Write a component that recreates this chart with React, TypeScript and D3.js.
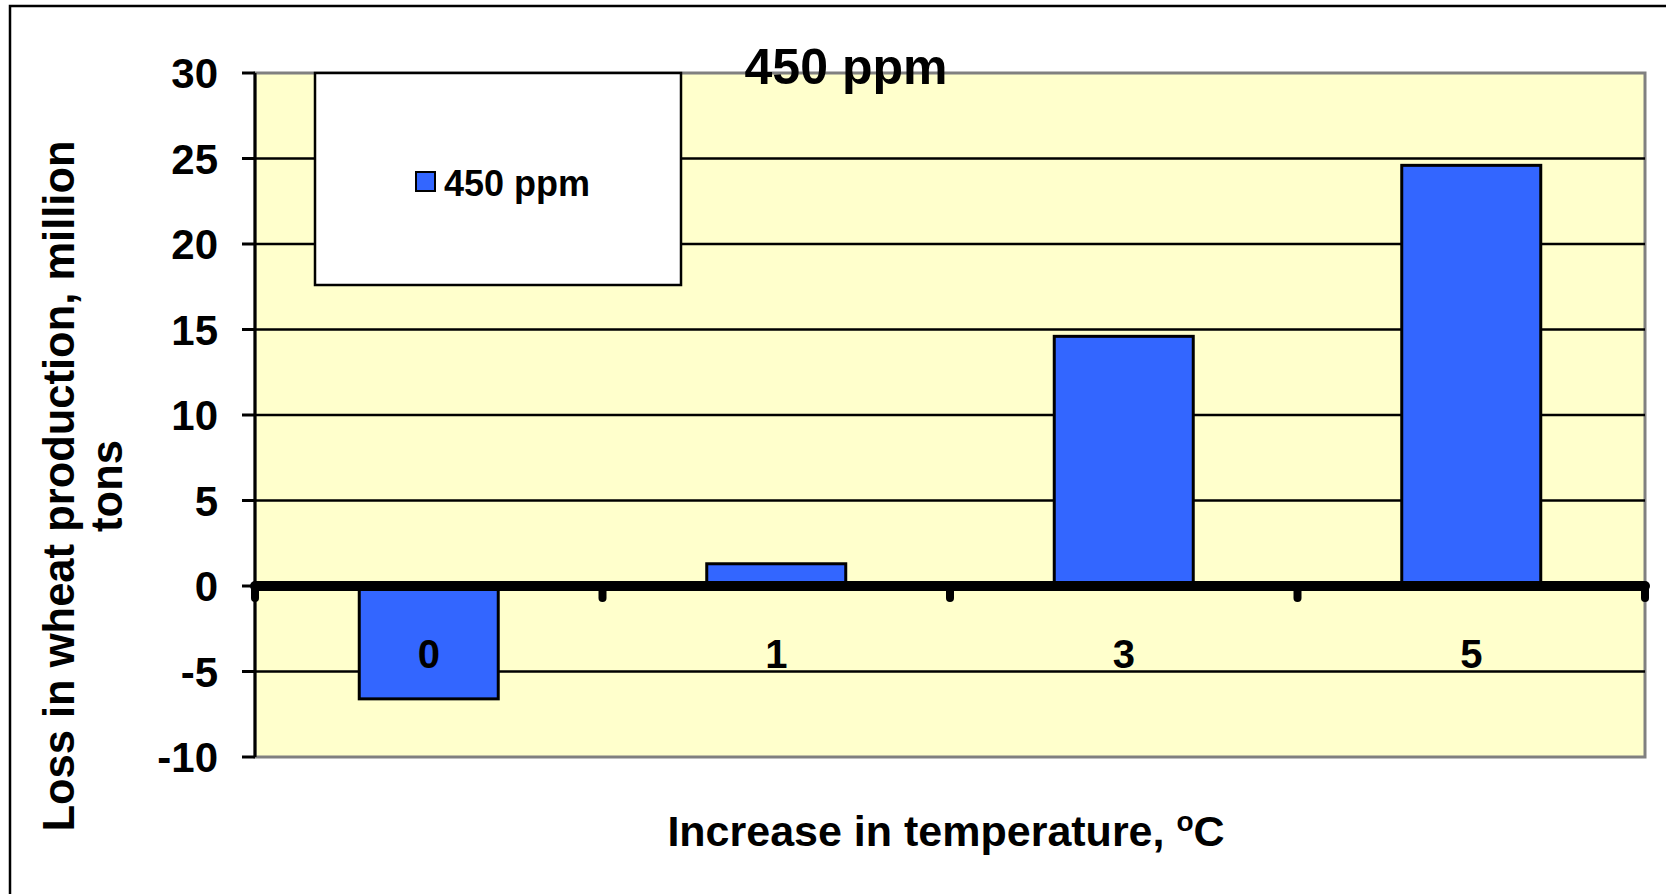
import * as d3 from 'd3'

const categories = ['0', '1', '3', '5']
const lossValues = [-6.6, 1.3, 14.6, 24.6]
const yTicks = [-10, -5, 0, 5, 10, 15, 20, 25, 30]
const seriesName = '450 ppm'

const W = 1666
const H = 894
const FONT = '"Liberation Sans", Arial, sans-serif'

export default function App() {
  const margin = { left: 255, right: 21, top: 73, bottom: 137 }
  const x = d3
    .scaleBand<string>()
    .domain(categories)
    .range([margin.left, W - margin.right])
    .paddingInner(0.6)
    .paddingOuter(0.3)
  const band = d3.scaleBand<string>().domain(categories).range([margin.left, W - margin.right])
  const y = d3.scaleLinear().domain([-10, 30]).range([H - margin.bottom, margin.top])
  const y0 = y(0)
  const boundaries = [...categories.map(c => band(c) ?? 0), W - margin.right]

  return (
    <svg
      width={W}
      height={H}
      style={{ position: 'absolute', left: 0, top: 0, background: '#fff' }}
      fontFamily={FONT}
      fontWeight="bold"
    >
      {/* chart frame */}
      <rect x={10} y={6} width={W + 20} height={H + 20} fill="none" stroke="#000" strokeWidth={2.5} />

      {/* plot area */}
      <rect
        x={margin.left}
        y={margin.top}
        width={W - margin.left - margin.right}
        height={H - margin.bottom - margin.top}
        fill="#FFFFCC"
        stroke="#808080"
        strokeWidth={3}
      />

      {/* gridlines + y ticks */}
      {yTicks.map(t => (
        <g key={t}>
          {t !== -10 && t !== 0 && t !== 30 && (
            <line x1={margin.left} x2={W - margin.right} y1={y(t)} y2={y(t)} stroke="#000" strokeWidth={2.5} />
          )}
          <line x1={margin.left - 13} x2={margin.left} y1={y(t)} y2={y(t)} stroke="#000" strokeWidth={3} />
          <text x={218} y={y(t)} dy="0.36em" textAnchor="end" fontSize={42} fill="#000">
            {t}
          </text>
        </g>
      ))}

      {/* y axis line */}
      <line x1={margin.left} x2={margin.left} y1={margin.top} y2={H - margin.bottom} stroke="#000" strokeWidth={3} />

      {/* bars */}
      {categories.map((c, i) => {
        const v = lossValues[i]
        return (
          <rect
            key={c}
            x={x(c)}
            y={Math.min(y(v), y0)}
            width={x.bandwidth()}
            height={Math.abs(y(v) - y0)}
            fill="#3366FF"
            stroke="#000"
            strokeWidth={3}
          />
        )
      })}

      {/* zero axis */}
      <line x1={margin.left} x2={W - margin.right} y1={y0} y2={y0} stroke="#000" strokeWidth={10} strokeLinecap="round" />
      {boundaries.map((bx, i) => (
        <line key={i} x1={bx} x2={bx} y1={y0} y2={y0 + 12} stroke="#000" strokeWidth={8} strokeLinecap="round" />
      ))}

      {/* category labels */}
      {categories.map(c => (
        <text key={c} x={(band(c) ?? 0) + band.bandwidth() / 2} y={668} textAnchor="middle" fontSize={40} fill="#000">
          {c}
        </text>
      ))}

      {/* title */}
      <text x={846} y={84} textAnchor="middle" fontSize={50} fill="#000">
        {seriesName}
      </text>

      {/* legend */}
      <rect x={315} y={73} width={366} height={212} fill="#fff" stroke="#000" strokeWidth={2.5} />
      <rect x={416} y={172} width={19} height={19} fill="#3366FF" stroke="#000" strokeWidth={2} />
      <text x={444} y={196} fontSize={36} fill="#000">
        {seriesName}
      </text>

      {/* axis titles */}
      <text transform="translate(74,486) rotate(-90)" textAnchor="middle" fontSize={43.5} fill="#000">
        Loss in wheat production, million
      </text>
      <text transform="translate(122,486) rotate(-90)" textAnchor="middle" fontSize={43.5} fill="#000">
        tons
      </text>
      <text x={946} y={846} textAnchor="middle" fontSize={43} fill="#000">
        Increase in temperature,{' '}
        <tspan fontSize={28} dy={-15}>o</tspan>
        <tspan dy={15}>C</tspan>
      </text>
    </svg>
  )
}
